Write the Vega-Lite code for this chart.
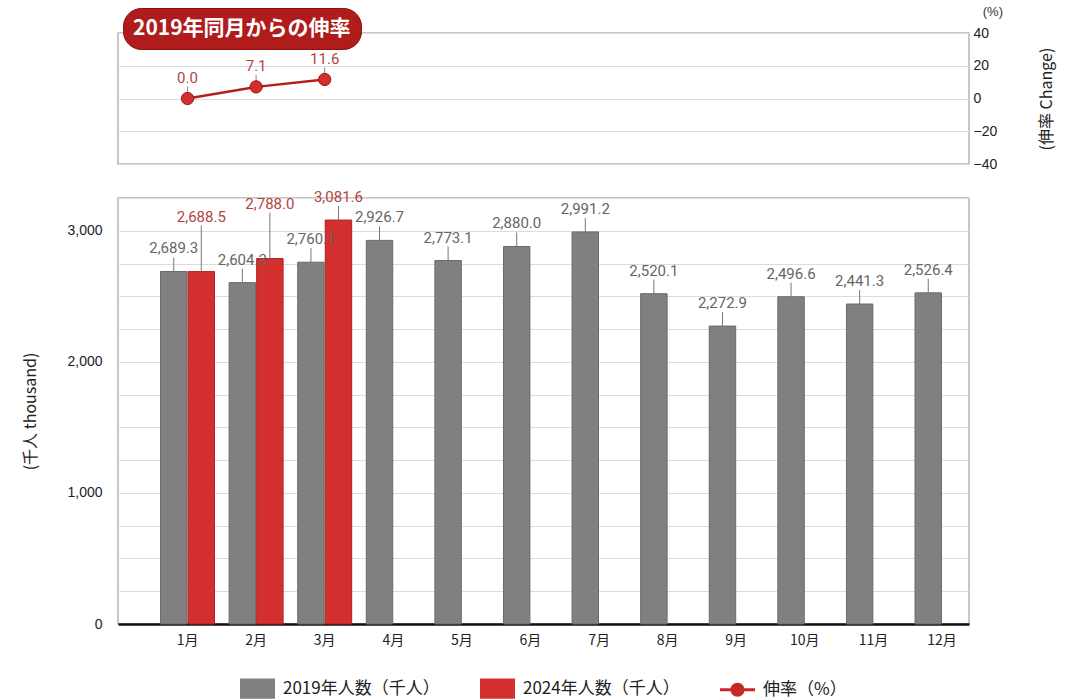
{
  "$schema": "https://vega.github.io/schema/vega-lite/v6.json",
  "background": "white",
  "padding": {"left": 22, "top": 4, "right": 5, "bottom": 0},
  "datasets": {
    "visitors": [
      {"month": "1月", "series": "2019年人数（千人）", "value": 2689.3},
      {"month": "2月", "series": "2019年人数（千人）", "value": 2604.3},
      {"month": "3月", "series": "2019年人数（千人）", "value": 2760.1},
      {"month": "4月", "series": "2019年人数（千人）", "value": 2926.7},
      {"month": "5月", "series": "2019年人数（千人）", "value": 2773.1},
      {"month": "6月", "series": "2019年人数（千人）", "value": 2880.0},
      {"month": "7月", "series": "2019年人数（千人）", "value": 2991.2},
      {"month": "8月", "series": "2019年人数（千人）", "value": 2520.1},
      {"month": "9月", "series": "2019年人数（千人）", "value": 2272.9},
      {"month": "10月", "series": "2019年人数（千人）", "value": 2496.6},
      {"month": "11月", "series": "2019年人数（千人）", "value": 2441.3},
      {"month": "12月", "series": "2019年人数（千人）", "value": 2526.4},
      {"month": "1月", "series": "2024年人数（千人）", "value": 2688.5},
      {"month": "2月", "series": "2024年人数（千人）", "value": 2788.0},
      {"month": "3月", "series": "2024年人数（千人）", "value": 3081.6}
    ],
    "rate": [
      {"month": "1月", "series": "伸率（%）", "rate": 0.0},
      {"month": "2月", "series": "伸率（%）", "rate": 7.1},
      {"month": "3月", "series": "伸率（%）", "rate": 11.6}
    ]
  },
  "spacing": 17,
  "resolve": {"scale": {"color": "shared", "shape": "shared"}, "legend": {"color": "shared", "shape": "shared", "strokeDash": "independent"}},
  "vconcat": [
    {
      "width": 851,
      "height": 131,
      "title": {"text": "(%)", "anchor": "end", "frame": "group", "fontSize": 13, "fontWeight": "normal", "font": "Liberation Sans", "color": "#333", "dx": 34, "offset": -11},
      "data": {"name": "rate"},
      "encoding": {
        "x": {"field": "month", "type": "nominal", "sort": null,
              "scale": {"type": "band", "domain": ["1月","2月","3月","4月","5月","6月","7月","8月","9月","10月","11月","12月"], "paddingInner": 0.213, "paddingOuter": 0.31, "align": 1},
              "axis": null},
        "y": {"field": "rate", "type": "quantitative",
              "scale": {"domain": [-40, 40], "nice": false},
              "axis": {"orient": "right", "values": [-40, -20, 0, 20, 40], "grid": true, "ticks": false, "domain": false, "labelPadding": 4, "labelFontSize": 14, "title": "(伸率 Change)", "titleAngle": 270, "titleFontSize": 16, "titleFontWeight": "normal", "titlePadding": 58}}
      },
      "layer": [
        {"mark": {"type": "rule", "color": "#888888", "y2Offset": -12}, "encoding": {"y2": {"field": "rate"}}},
        {"mark": {"type": "line", "strokeWidth": 2.5, "color": "#b71c1c"}, "encoding": {}},
        {"mark": {"type": "point", "filled": true, "size": 150, "color": "#d32f2f", "stroke": "#9a1010", "strokeWidth": 1, "opacity": 1}, "encoding": {}},
        {"mark": {"type": "text", "dy": -21, "fontSize": 15, "font": "Roboto", "color": "#b5433f"}, "encoding": {"text": {"field": "rate", "type": "quantitative", "format": ".1f"}}},
        {"transform": [{"filter": "false"}],
         "mark": {"type": "point", "filled": true},
         "encoding": {
           "color": {"field": "series", "type": "nominal", "scale": {"domain": ["2019年人数（千人）", "2024年人数（千人）", "伸率（%）"], "range": ["#808080", "#d32f2f", "#c62828"]}, "legend": {"title": null}},
           "shape": {"field": "series", "type": "nominal", "scale": {"domain": ["2019年人数（千人）", "2024年人数（千人）", "伸率（%）"], "range": ["M-1,-0.58L1,-0.58L1,0.58L-1,0.58Z", "M-1,-0.58L1,-0.58L1,0.58L-1,0.58Z", "M-1,-0.09L1,-0.09L1,0.09L-1,0.09Z M-0.4,0A0.4,0.4,0,1,1,0.4,0A0.4,0.4,0,1,1,-0.4,0Z"]}, "legend": {"title": null}},
           "strokeDash": {"field": "month", "type": "nominal",
             "legend": {"title": "2019年同月からの伸率", "values": [], "orient": "none", "legendX": 5, "legendY": -25, "fillColor": "#b01c1c", "strokeColor": "#8a1010", "cornerRadius": 18, "padding": 10, "titleColor": "#ffffff", "titleFontSize": 21, "titleFontWeight": "bold", "titleFont": "Noto Sans CJK JP", "titlePadding": 0, "titleLimit": 500}}
         }}
      ]
    },
    {
      "width": 851,
      "height": 426,
      "data": {"name": "visitors"},
      "encoding": {
        "x": {"field": "month", "type": "nominal", "sort": null,
              "scale": {"type": "band", "domain": ["1月","2月","3月","4月","5月","6月","7月","8月","9月","10月","11月","12月"], "paddingInner": 0.213, "paddingOuter": 0.31, "align": 1},
              "axis": {"domainColor": "#111111", "domainWidth": 2.5, "ticks": false, "labelAngle": 0, "labelPadding": 9, "labelFontSize": 14, "labelFont": "Noto Sans CJK JP", "title": null, "grid": false}},
        "xOffset": {"field": "series", "type": "nominal", "scale": {"domain": ["2019年人数（千人）", "2024年人数（千人）"], "paddingInner": 0.04}},
        "y": {"field": "value", "type": "quantitative",
              "scale": {"domain": [0, 3250], "nice": false},
              "axis": {"orient": "left", "values": [0, 250, 500, 750, 1000, 1250, 1500, 1750, 2000, 2250, 2500, 2750, 3000, 3250], "format": ",d", "labelExpr": "datum.value % 1000 === 0 ? datum.label : ''", "grid": true, "ticks": false, "domain": false, "labelPadding": 16, "labelFontSize": 14, "title": "(千人 thousand)", "titleFontSize": 16, "titleFontWeight": "normal", "titlePadding": 28}}
      },
      "layer": [
        {"mark": {"type": "bar", "strokeWidth": 1},
         "encoding": {
           "color": {"field": "series", "type": "nominal", "scale": {"domain": ["2019年人数（千人）", "2024年人数（千人）", "伸率（%）"], "range": ["#808080", "#d32f2f", "#c62828"]}, "legend": {"title": null}},
           "stroke": {"condition": {"test": "datum.series === '2024年人数（千人）'", "value": "#b02020"}, "value": "#6a6a6a"}
         }},
        {"transform": [{"filter": "datum.series === '2019年人数（千人）' || datum.month === '3月'"}],
         "mark": {"type": "rule", "color": "#777777", "y2Offset": -14},
         "encoding": {"y2": {"field": "value"}}},
        {"transform": [{"filter": "datum.series === '2019年人数（千人）' || datum.month === '3月'"}],
         "mark": {"type": "text", "dy": -23, "fontSize": 15, "font": "Roboto"},
         "encoding": {"text": {"field": "value", "type": "quantitative", "format": ",.1f"},
                      "color": {"condition": {"test": "datum.series === '2024年人数（千人）'", "value": "#b5433f"}, "value": "#666666"}}},
        {"transform": [{"filter": "datum.series === '2024年人数（千人）' && datum.month !== '3月'"}],
         "mark": {"type": "rule", "color": "#777777", "y2Offset": -46},
         "encoding": {"y2": {"field": "value"}}},
        {"transform": [{"filter": "datum.series === '2024年人数（千人）' && datum.month !== '3月'"}],
         "mark": {"type": "text", "dy": -55, "fontSize": 15, "font": "Roboto", "color": "#b5433f"},
         "encoding": {"text": {"field": "value", "type": "quantitative", "format": ",.1f"}}}
      ]
    }
  ],
  "config": {
    "view": {"stroke": "#b5b5b5", "strokeWidth": 1.5},
    "axis": {"gridColor": "#dcdcdc", "gridWidth": 1.2, "labelColor": "#222222", "titleColor": "#222222", "labelFont": "Liberation Sans", "titleFont": "Noto Sans CJK JP"},
    "legend": {"orient": "bottom", "direction": "horizontal", "labelFontSize": 17, "labelFont": "Noto Sans CJK JP", "labelColor": "#222222", "symbolSize": 1225, "labelOffset": 8, "columnPadding": 40, "offset": 23, "symbolStrokeWidth": 0, "symbolOpacity": 1, "layout": {"bottom": {"anchor": "middle"}}}
  }
}
